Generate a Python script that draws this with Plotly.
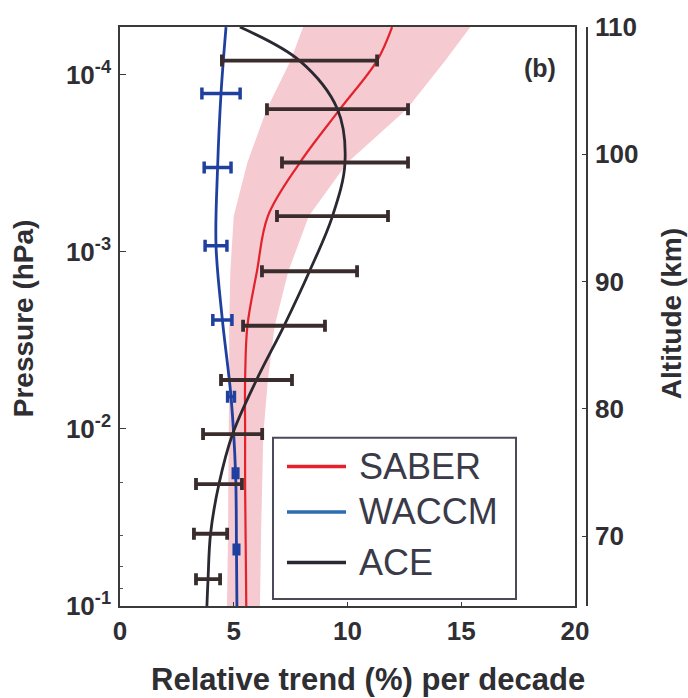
import plotly.graph_objects as go

# ---- SABER: trend profile and its uncertainty envelope (% per decade) ----
saber_p = [5.4e-5, 8.35e-5, 1.57e-4, 3.14e-4, 6.3e-4, 1.29e-3, 2.62e-3,
           5.3e-3, 1.07e-2, 2.05e-2, 3.91e-2, 7.06e-2, 0.1]
saber_trend = [11.96, 11.3, 9.67, 7.91, 6.5, 6.02, 5.6,
               5.5, 5.5, 5.5, 5.52, 5.54, 5.55]
saber_lo = [8.05, 7.5, 6.45, 5.6, 5.0, 4.85, 4.8,
            4.8, 4.78, 4.76, 4.75, 4.72, 4.7]
saber_hi = [15.4, 14.3, 12.6, 10.0, 8.3, 7.4, 6.8,
            6.5, 6.3, 6.25, 6.2, 6.17, 6.15]

# ---- WACCM: model profile and the levels where its spread is shown ----
waccm_p = [5.4e-5, 1.28e-4, 3.35e-4, 9.25e-4, 2.43e-3, 6.6e-3, 1.78e-2, 4.8e-2, 0.1]
waccm_trend = [4.66, 4.44, 4.29, 4.22, 4.5, 4.88, 5.08, 5.12, 5.14]
waccm_bar_p = [1.28e-4, 3.35e-4, 9.25e-4, 2.43e-3, 6.6e-3, 1.78e-2, 4.8e-2]
waccm_bar_trend = [4.44, 4.29, 4.22, 4.5, 4.88, 5.08, 5.12]
waccm_bar_err = [0.84, 0.59, 0.48, 0.42, 0.15, 0.1, 0.1]

# ---- ACE: trend at each retrieval level with its uncertainty ----
ace_p = [8.35e-5, 1.57e-4, 3.14e-4, 6.3e-4, 1.29e-3, 2.62e-3,
         5.3e-3, 1.07e-2, 2.05e-2, 3.91e-2, 7.06e-2]
ace_trend = [7.89, 9.56, 9.89, 9.34, 8.33, 7.21, 6.0, 4.95, 4.35, 3.98, 3.87]
ace_err = [3.41, 3.10, 2.77, 2.44, 2.09, 1.80, 1.56, 1.30, 1.01, 0.73, 0.53]
# smooth ACE profile, extended to the top and bottom of the panel
ace_line_p = [5.4e-5] + ace_p + [0.1]
ace_line_trend = [5.27] + ace_trend + [3.82]

# ---- axes ----
x_ticks = [0, 5, 10, 15, 20]
p_ticks = [1e-4, 1e-3, 1e-2, 1e-1]
p_labels = ["10<sup>-4</sup>", "10<sup>-3</sup>", "10<sup>-2</sup>", "10<sup>-1</sup>"]
alt_ticks = [70, 80, 90, 100, 110]
p_range_log = [-1, -4.268]
alt_range = [64.5, 110]

legend_names = ["SABER", "WACCM", "ACE"]

FONT = "Liberation Sans, Arial, sans-serif"
INK = "#2e2e33"
RED = "#e3222c"
BAND = "rgb(245,202,208)"
BLUE = "#2040a0"
BLUE_LEG = "#2f6db3"
ACE_C = "#2a2830"
ACE_BAR = "#3a2c2c"

fig = go.Figure()

# SABER uncertainty envelope
fig.add_trace(go.Scatter(
    x=saber_lo + saber_hi[::-1],
    y=saber_p + saber_p[::-1],
    fill="toself", fillcolor=BAND, mode="none",
    hoverinfo="skip", showlegend=False,
))
# SABER profile
fig.add_trace(go.Scatter(
    x=saber_trend, y=saber_p, mode="lines",
    line=dict(color=RED, width=2.2, shape="spline"),
    showlegend=False,
))
# WACCM profile and spread
fig.add_trace(go.Scatter(
    x=waccm_trend, y=waccm_p, mode="lines",
    line=dict(color=BLUE, width=2.8, shape="spline"),
    showlegend=False,
))
fig.add_trace(go.Scatter(
    x=waccm_bar_trend, y=waccm_bar_p, mode="markers",
    marker=dict(size=1, color=BLUE),
    error_x=dict(type="data", array=waccm_bar_err, color=BLUE,
                 thickness=3.5, width=6),
    showlegend=False,
))
# ACE profile and uncertainty bars
fig.add_trace(go.Scatter(
    x=ace_line_trend, y=ace_line_p, mode="lines",
    line=dict(color=ACE_C, width=2.8, shape="spline"),
    showlegend=False,
))
fig.add_trace(go.Scatter(
    x=ace_trend, y=ace_p, mode="markers",
    marker=dict(size=1, color=ACE_BAR),
    error_x=dict(type="data", array=ace_err, color=ACE_BAR,
                 thickness=3.8, width=6),
    showlegend=False,
))
# keeps the altitude axis attached to the plot
fig.add_trace(go.Scatter(x=[None], y=[None], yaxis="y2",
                         showlegend=False, hoverinfo="skip"))

axis_line = dict(showline=True, linecolor="#3a3a3a", linewidth=1.6,
                 showgrid=False, zeroline=False)
tick_font = dict(size=26, color=INK, weight="bold")

fig.update_layout(
    width=688, height=698,
    margin=dict(l=120, r=101, t=21, b=92),
    paper_bgcolor="white", plot_bgcolor="white",
    font=dict(family=FONT, color=INK),
    showlegend=False,
    xaxis=dict(
        **axis_line, mirror=True, domain=[0, 455 / 467],
        range=[0, 20], tickvals=x_ticks, ticks="inside", ticklen=4,
        tickcolor="#3a3a3a", tickfont=tick_font,
        ticklabelstandoff=1,
    ),
    yaxis=dict(
        **axis_line, mirror=True, type="log", range=p_range_log,
        tickvals=p_ticks, ticktext=p_labels, ticks="inside", ticklen=6,
        tickcolor="#3a3a3a", tickfont=tick_font,
        minor=dict(ticks="inside", ticklen=3, tickcolor="#555555"),
        ticklabelstandoff=2,
    ),
    yaxis2=dict(
        **axis_line, overlaying="y", side="right", anchor="free", position=1.0,
        range=alt_range, tickvals=alt_ticks, ticks="inside", ticklen=4,
        tickcolor="#3a3a3a", tickfont=tick_font, ticklabelstandoff=2,
    ),
)

# axis titles and panel tag
fig.add_annotation(text="Relative trend (%) per decade", xref="paper", yref="paper",
                   x=0.531, y=-0.1265, xanchor="center", yanchor="middle",
                   showarrow=False, font=dict(size=31, color=INK, weight="bold"))
fig.add_annotation(text="Pressure (hPa)", xref="paper", yref="paper",
                   x=-0.2077, y=0.497, xanchor="center", yanchor="middle",
                   textangle=-90, showarrow=False,
                   font=dict(size=28, color=INK, weight="bold"))
fig.add_annotation(text="Altitude (km)", xref="paper", yref="paper",
                   x=1.181, y=0.505, xanchor="center", yanchor="middle",
                   textangle=-90, showarrow=False,
                   font=dict(size=28, color=INK, weight="bold"))
fig.add_annotation(text="(b)", xref="paper", yref="paper",
                   x=0.899, y=0.930, xanchor="center", yanchor="middle",
                   showarrow=False, font=dict(size=25, color=INK, weight="bold"))

# legend box drawn in paper coordinates
def px_x(px):
    return (px - 120) / 467

def px_y(py):
    return (606 - py) / 585

fig.add_shape(type="rect", xref="paper", yref="paper",
              x0=px_x(273), x1=px_x(516), y0=px_y(599), y1=px_y(436),
              fillcolor="white", line=dict(color="#4a4a5a", width=2), layer="above")
leg_colors = [RED, BLUE_LEG, ACE_C]
leg_rows = [465, 511, 562]
for name, col, row in zip(legend_names, leg_colors, leg_rows):
    fig.add_shape(type="line", xref="paper", yref="paper",
                  x0=px_x(287), x1=px_x(346), y0=px_y(row), y1=px_y(row),
                  line=dict(color=col, width=3.5), layer="above")
    fig.add_annotation(text=name, xref="paper", yref="paper",
                       x=px_x(357), y=px_y(row), xanchor="left", yanchor="middle",
                       showarrow=False, font=dict(size=36, color="#3a3a48"))

fig.write_html("out.html")
